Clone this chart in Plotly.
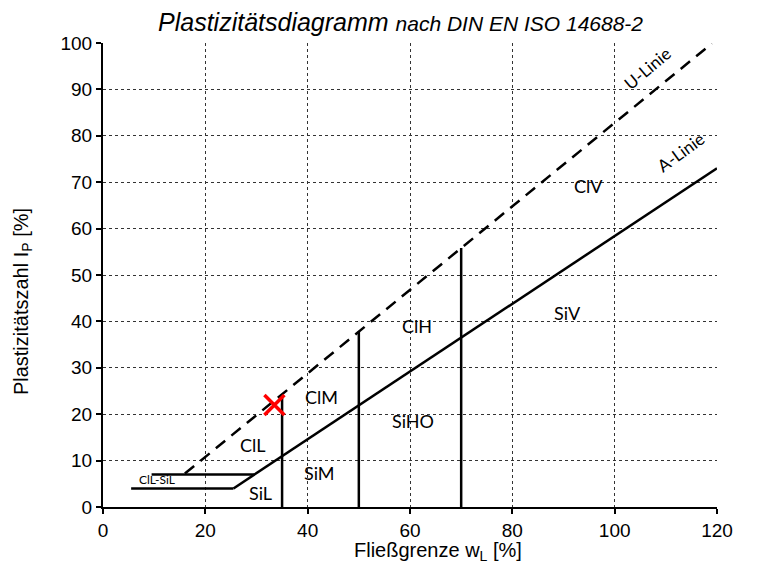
import plotly.graph_objects as go

# A-Linie: Ip = 0.73 (wL - 20)
a_line_x = [25.5, 120]
a_line_y = [4.0, 73.0]
# U-Linie: Ip = 0.9 (wL - 8)
u_line_x = [16, 119]
u_line_y = [7.2, 99.9]
# vertical boundaries (x, top)
vert_x = [35, 50, 70]
vert_top = [24.3, 37.8, 55.8]
# horizontal boundaries (y, x_start, x_end)
horiz_y = [7, 4]
horiz_x0 = [9.5, 5.5]
horiz_x1 = [29.6, 25.5]
# sample point
sample_x = [33.5]
sample_y = [22]
# zone labels
zone_text = ["ClL-SiL", "SiL", "ClL", "SiM", "ClM", "SiHO", "ClH", "SiV", "ClV"]
zone_x = [10.5, 30.7, 29.3, 42.4, 42.8, 60.6, 61.4, 90.7, 94.8]
zone_y = [6.0, 3.0, 13.4, 7.3, 23.7, 18.5, 39.0, 41.8, 69.2]
zone_size = [12, 18, 18, 18, 18, 18, 18, 18, 18]
# line labels
line_text = ["U-Linie", "A-Linie"]
line_lx = [106.3, 112.8]
line_ly = [94.6, 76.5]
line_angle = [-40, -36]

lw = 2.5
fig = go.Figure()
fig.add_trace(go.Scatter(x=a_line_x, y=a_line_y, mode="lines",
                         line=dict(color="black", width=lw)))
fig.add_trace(go.Scatter(x=u_line_x, y=u_line_y, mode="lines",
                         line=dict(color="black", width=lw, dash="12px,8px")))
for vx, vt in zip(vert_x, vert_top):
    fig.add_trace(go.Scatter(x=[vx, vx], y=[0, vt], mode="lines",
                             line=dict(color="black", width=lw)))
for hy, hx0, hx1 in zip(horiz_y, horiz_x0, horiz_x1):
    fig.add_trace(go.Scatter(x=[hx0, hx1], y=[hy, hy], mode="lines",
                             line=dict(color="black", width=lw)))
fig.add_trace(go.Scatter(x=sample_x, y=sample_y, mode="markers",
                         marker=dict(symbol="x-thin", size=20, color="red",
                                     line=dict(color="red", width=3.5))))

lab_font = "Lato"
for t, x, y, s in zip(zone_text, zone_x, zone_y, zone_size):
    fig.add_annotation(x=x, y=y, text=t, showarrow=False,
                       font=dict(family=lab_font, size=s, color="#000000"))
for t, x, y, a in zip(line_text, line_lx, line_ly, line_angle):
    fig.add_annotation(x=x, y=y, text=t, showarrow=False, textangle=a,
                       font=dict(family=lab_font, size=17, color="#000000"))

arial = "Liberation Sans"
# title
fig.add_annotation(xref="paper", yref="paper", x=0.485, y=1.046,
                   xanchor="center", yanchor="middle", showarrow=False,
                   text="<i>Plastizitätsdiagramm <span style='font-size:21px'>nach DIN EN ISO 14688-2</span></i>",
                   font=dict(family=arial, size=25, color="#000000"))
# axis titles
fig.add_annotation(xref="paper", yref="paper", x=0.546, y=-0.095,
                   xanchor="center", yanchor="middle", showarrow=False,
                   text="Fließgrenze w<sub>L</sub> [%]",
                   font=dict(family=arial, size=20, color="#000000"))
fig.add_annotation(xref="paper", yref="paper", x=-0.130, y=0.442,
                   xanchor="center", yanchor="middle", showarrow=False, textangle=-90,
                   text="Plastizitätszahl I<sub>P</sub> [%]",
                   font=dict(family=arial, size=20, color="#000000"))

axis_common = dict(showgrid=True, gridcolor="#333333", griddash="dot", gridwidth=1,
                   showline=True, linecolor="black", linewidth=2,
                   ticks="outside", ticklen=5, tickwidth=2, tickcolor="black",
                   zeroline=False,
                   tickfont=dict(family=arial, size=19, color="#000000"))
fig.update_xaxes(range=[0, 120], dtick=20, **axis_common)
fig.update_yaxes(range=[0, 100], dtick=10, **axis_common)

fig.update_layout(width=779, height=573, showlegend=False,
                  margin=dict(l=95, r=70, t=35, b=74),
                  plot_bgcolor="white", paper_bgcolor="white")
fig.write_html("out.html")
